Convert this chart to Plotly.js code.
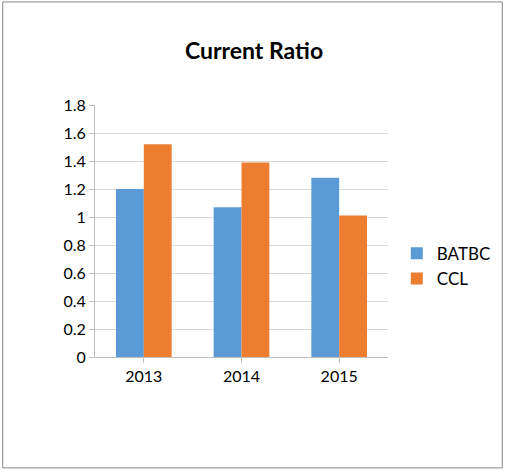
<!DOCTYPE html>
<html><head><meta charset="utf-8">
<script src="https://cdn.plot.ly/plotly-3.0.1.min.js"></script>
<style>body{margin:0;background:#fff}#c{width:508px;height:472px}</style>
</head><body><div id="c"></div>
<script>
var years = ["2013", "2014", "2015"];
var batbc = [1.2, 1.07, 1.28];
var ccl = [1.52, 1.39, 1.01];
var yTicks = [0, 0.2, 0.4, 0.6, 0.8, 1, 1.2, 1.4, 1.6, 1.8];

var traces = [
  { type: "bar", name: "BATBC", x: years, y: batbc, marker: { color: "#5B9BD5" } },
  { type: "bar", name: "CCL", x: years, y: ccl, marker: { color: "#ED7D31" } }
];
var layout = {
  width: 508, height: 472,
  paper_bgcolor: "#fff", plot_bgcolor: "#fff",
  font: { family: "Lato, 'Open Sans', sans-serif", size: 16, color: "#000" },
  title: { text: "<b>Current Ratio</b>", x: 0.5, xanchor: "center", y: 0.91, font: { size: 23 } },
  margin: { l: 95, r: 118, t: 105, b: 115 },
  barmode: "group", bargap: 0.43, bargroupgap: 0,
  xaxis: { showline: true, linecolor: "#BFBFBF", ticks: "outside", ticklen: 5, tickcolor: "#BFBFBF", showgrid: false },
  yaxis: { range: [0, 1.8], tickvals: yTicks, ticktext: yTicks.map(String), showgrid: true, gridcolor: "#D9D9D9",
           showline: true, linecolor: "#BFBFBF", ticks: "outside", ticklen: 5, tickcolor: "#BFBFBF", zeroline: false },
  legend: { x: 1.03, y: 0.36, yanchor: "middle", tracegroupgap: 22, font: { size: 17 }, itemwidth: 30 },
  shapes: [{ type: "rect", xref: "paper", yref: "paper", x0: -0.315, x1: 1.39, y0: -0.44, y1: 1.409,
             line: { color: "#888", width: 1 } }]
};
Plotly.newPlot("c", traces, layout, { displayModeBar: false });
</script></body></html>
